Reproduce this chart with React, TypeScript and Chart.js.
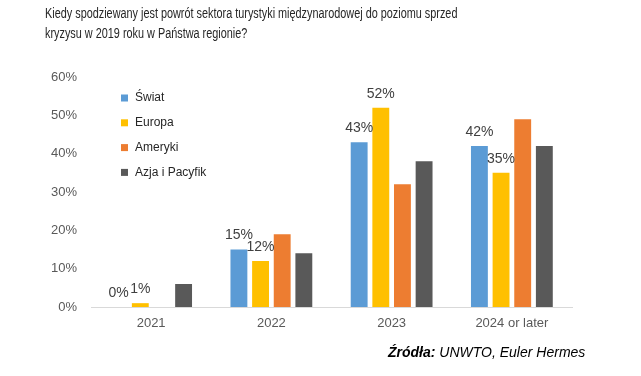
import React, { useEffect, useRef } from "react";
import { Chart, registerables } from "chart.js";

Chart.register(...registerables);

const categories = ["2021", "2022", "2023", "2024 or later"];
const seriesNames = ["Świat", "Europa", "Ameryki", "Azja i Pacyfik"];
const swiat = [0, 15, 43, 42];
const europa = [1, 12, 52, 35];
const ameryki = [0, 19, 32, 49];
const azja = [6, 14, 38, 42];
const seriesColors = ["#5B9BD5", "#FFC000", "#ED7D31", "#595959"];
const labeledSeries = [0, 1];
const yTicks = [0, 10, 20, 30, 40, 50, 60];

const titleLines = [
  "Kiedy spodziewany jest powrót sektora turystyki międzynarodowej do poziomu sprzed",
  "kryzysu w 2019 roku w Państwa regionie?",
];

const FONT = "'Liberation Sans', Arial, sans-serif";

const valueLabelPlugin = {
  id: "valueLabels",
  afterDatasetsDraw(chart: any) {
    const ctx = chart.ctx;
    ctx.save();
    ctx.font = `14px ${FONT}`;
    ctx.fillStyle = "#404040";
    ctx.textAlign = "center";
    ctx.textBaseline = "middle";
    labeledSeries.forEach((di) => {
      const meta = chart.getDatasetMeta(di);
      meta.data.forEach((bar: any, i: number) => {
        const v = chart.data.datasets[di].data[i];
        ctx.fillText(`${v}%`, bar.x, bar.y - 14);
      });
    });
    ctx.restore();
  },
};

const legendPlugin = {
  id: "insideLegend",
  afterDraw(chart: any) {
    const ctx = chart.ctx;
    const x0 = chart.chartArea.left + 30;
    const y0 = chart.chartArea.top + 21;
    ctx.save();
    ctx.font = `12px ${FONT}`;
    ctx.textBaseline = "middle";
    ctx.textAlign = "left";
    chart.data.datasets.forEach((ds: any, i: number) => {
      const y = y0 + i * 24.8;
      ctx.fillStyle = ds.backgroundColor;
      ctx.fillRect(x0, y - 3.5, 7, 7);
      ctx.fillStyle = "#262626";
      ctx.fillText(ds.label, x0 + 14, y);
    });
    ctx.restore();
  },
};

export default function App() {
  const ref = useRef<HTMLCanvasElement>(null);
  useEffect(() => {
    if (!ref.current) return;
    const data = [swiat, europa, ameryki, azja];
    const chart = new Chart(ref.current, {
      type: "bar",
      data: {
        labels: categories,
        datasets: data.map((d, i) => ({
          label: seriesNames[i],
          data: d,
          backgroundColor: seriesColors[i],
          borderWidth: 0,
          categoryPercentage: 0.72,
          barPercentage: 0.78,
        })),
      },
      options: {
        animation: false,
        responsive: false,
        maintainAspectRatio: false,
        layout: { padding: { left: 31, right: 69, top: 77, bottom: 39 } },
        plugins: {
          legend: { display: false },
          tooltip: { enabled: false },
        },
        scales: {
          x: {
            grid: { display: false, drawTicks: false },
            border: { display: true, color: "#D9D9D9", width: 1 },
            ticks: {
              color: "#595959",
              font: { family: FONT, size: 13 },
              padding: 9,
            },
            afterFit: (s: any) => {
              s.height = 30;
            },
          },
          y: {
            min: 0,
            max: 60,
            afterBuildTicks: (s: any) => {
              s.ticks = yTicks.map((v) => ({ value: v }));
            },
            grid: { display: false, drawTicks: false },
            border: { display: false },
            ticks: {
              color: "#595959",
              font: { family: FONT, size: 13 },
              padding: 14,
              callback: (v: any) => `${v}%`,
            },
            afterFit: (s: any) => {
              s.width = 60;
            },
          },
        },
      },
      plugins: [valueLabelPlugin, legendPlugin],
    });
    return () => chart.destroy();
  }, []);

  return (
    <div
      style={{
        position: "absolute",
        left: 0,
        top: 0,
        width: 641,
        height: 376,
        background: "#fff",
        fontFamily: FONT,
        overflow: "hidden",
      }}
    >
      <canvas
        ref={ref}
        width={641}
        height={376}
        style={{ position: "absolute", left: 0, top: 0, width: 641, height: 376 }}
      />
      {titleLines.map((t, i) => (
        <div
          key={i}
          style={{
            position: "absolute",
            left: 45,
            top: 4 + i * 20,
            fontSize: 14,
            lineHeight: "18px",
            color: "#262626",
            whiteSpace: "nowrap",
            transform: "scaleX(0.776)",
            transformOrigin: "left top",
          }}
        >
          {t}
        </div>
      ))}
      <div
        style={{
          position: "absolute",
          left: 388,
          top: 344,
          fontSize: 14,
          lineHeight: "16px",
          color: "#000",
          fontStyle: "italic",
          whiteSpace: "nowrap",
        }}
      >
        <b>Źródła:</b> UNWTO, Euler Hermes
      </div>
    </div>
  );
}
